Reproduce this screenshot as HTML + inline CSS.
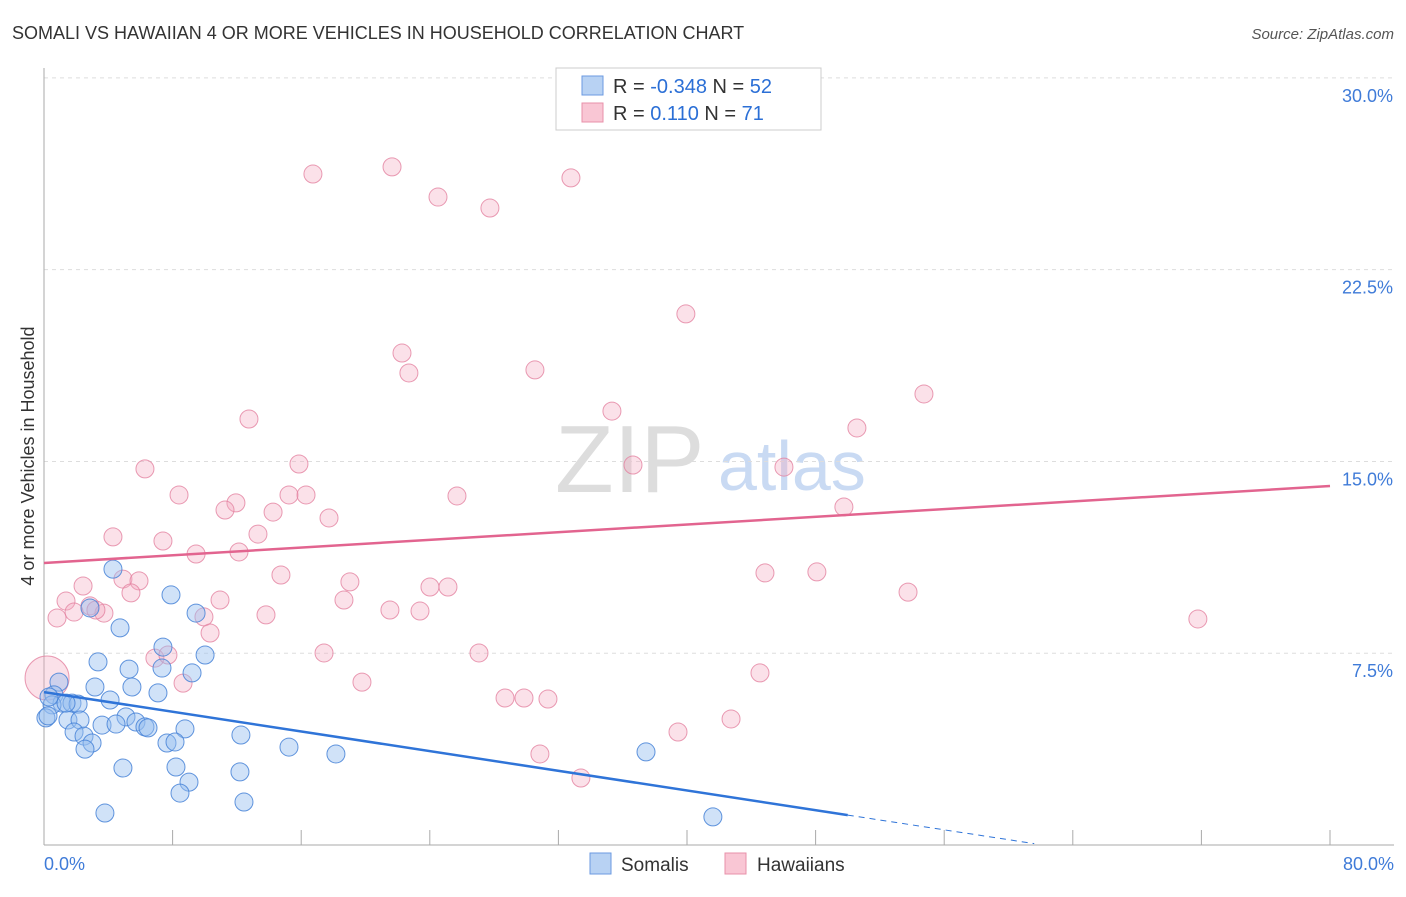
<!DOCTYPE html>
<html><head><meta charset="utf-8"><style>
body{margin:0;background:#fff;font-family:"Liberation Sans",sans-serif;}
svg text{font-family:"Liberation Sans",sans-serif;}
</style></head><body>
<svg id="chart" width="1406" height="892" xmlns="http://www.w3.org/2000/svg">
<text x="12" y="39" font-size="18" fill="#333">SOMALI VS HAWAIIAN 4 OR MORE VEHICLES IN HOUSEHOLD CORRELATION CHART</text>
<text x="1394" y="39" font-size="15" fill="#555" text-anchor="end" font-style="italic">Source: ZipAtlas.com</text>
<text x="555" y="492" font-size="96" fill="#ddd" font-family="Liberation Serif,serif">ZIP</text>
<text x="718" y="490" font-size="70" fill="#c9daf3">atlas</text>
<g id="grid"></g>
<g id="axes"></g>
<g id="points"></g>
<g id="trends"></g>
<text transform="translate(34,456) rotate(-90)" font-size="18" fill="#333" text-anchor="middle">4 or more Vehicles in Household</text>
<g>
<rect x="556" y="68" width="265" height="62" fill="#fff" stroke="#ccc"/>
<rect x="582" y="76" width="21" height="19" fill="#b8d2f3" stroke="#6b9ae0"/>
<rect x="582" y="103" width="21" height="19" fill="#f9c6d4" stroke="#e890aa"/>
<text x="613" y="93" font-size="20" fill="#333">R = <tspan fill="#2b6fd6">-0.348</tspan>   N = <tspan fill="#2b6fd6">52</tspan></text>
<text x="613" y="120" font-size="20" fill="#333">R =   <tspan fill="#2b6fd6">0.110</tspan>   N =  <tspan fill="#2b6fd6">71</tspan></text>
</g>
<g>
<rect x="590" y="853" width="21" height="21" fill="#b8d2f3" stroke="#6b9ae0"/>
<text x="621" y="871" font-size="19" fill="#333">Somalis</text>
<rect x="725" y="853" width="21" height="21" fill="#f9c6d4" stroke="#e890aa"/>
<text x="757" y="871" font-size="19" fill="#333">Hawaiians</text>
</g>
</svg>
<script>
const xTicksPct=[0,80];
const yTicks=[7.5,15,22.5,30];
const yTickLabels=["7.5%","15.0%","22.5%","30.0%"];
const somaliX=[4.29,7.90,2.86,9.46,4.73,7.40,3.36,7.34,10.02,5.29,9.21,0.93,3.17,5.47,7.09,0.62,4.11,1.12,1.74,0.50,2.12,0.12,1.49,2.24,5.10,5.72,3.61,4.48,6.28,6.47,8.77,1.87,2.49,7.65,8.15,2.99,2.55,12.25,15.24,18.16,37.45,4.91,8.21,12.19,9.02,8.46,12.44,3.79,41.61,0.31,1.37,0.25];
const somaliY=[10.79,9.78,9.27,9.07,8.49,7.74,7.16,6.92,7.43,6.88,6.73,6.37,6.18,6.18,5.95,5.87,5.67,5.55,5.55,5.48,5.51,4.97,4.89,4.89,5.01,4.81,4.69,4.73,4.62,4.58,4.54,4.42,4.26,3.99,4.03,3.99,3.75,4.30,3.83,3.56,3.64,3.01,3.05,2.86,2.46,2.03,1.68,1.25,1.10,5.79,5.55,5.05];
const hawaiiX=[0.19,16.73,21.65,24.51,27.74,32.78,39.93,22.27,22.70,30.54,12.75,35.33,54.74,50.57,6.28,15.86,36.64,46.03,8.40,11.94,15.24,16.30,25.69,11.26,14.25,49.76,17.73,4.29,13.31,7.40,12.13,9.46,14.74,4.91,5.91,2.43,19.03,24.01,25.13,44.85,48.08,1.37,5.41,10.95,2.86,18.66,53.75,1.87,3.73,0.81,9.95,13.81,21.52,23.39,71.78,10.33,6.90,7.71,17.42,27.06,8.65,19.78,44.54,28.68,29.86,31.35,42.74,39.44,30.85,33.40,3.23];
const hawaiiY=[6.53,26.24,26.52,25.34,24.91,26.09,20.77,19.24,18.46,18.58,16.66,16.97,17.64,16.31,14.71,14.90,14.86,14.78,13.69,13.38,13.69,13.69,13.65,13.10,13.02,13.22,12.79,12.05,12.16,11.89,11.46,11.38,10.56,10.40,10.33,10.13,10.29,10.09,10.09,10.64,10.68,9.54,9.86,9.58,9.35,9.58,9.89,9.11,9.07,8.88,8.92,9.00,9.19,9.15,8.84,8.29,7.31,7.43,7.51,7.51,6.33,6.37,6.73,5.75,5.75,5.71,4.93,4.42,3.56,2.62,9.19];
const somaliTrend=[5.98,-0.0962];
const hawaiiTrend=[11.03,0.0376];
const NS="http://www.w3.org/2000/svg";
const X=v=>44+v*(1286/80);
const Y=v=>845-v*25.57;
function mk(tag,attrs,parent){const e=document.createElementNS(NS,tag);for(const k in attrs)e.setAttribute(k,attrs[k]);document.getElementById(parent).appendChild(e);return e;}
// grid
yTicks.forEach((t,i)=>{
 const l=mk('line',{x1:44,x2:1394,y1:Y(t),y2:Y(t),stroke:'#ddd','stroke-dasharray':'4,4'},'grid');
 
 
 const tx=mk('text',{x:1393,y:Y(t)+24,'font-size':18,fill:'#3f7bd8','text-anchor':'end'},'axes');
 tx.textContent=yTickLabels[i];
 
 
});
const ax=mk('line',{x1:44,x2:44,y1:68,y2:845,stroke:'#aaa'},'axes');


const bx=mk('line',{x1:44,x2:1394,y1:845,y2:845,stroke:'#aaa'},'axes');


for(let i=0;i<=10;i++){
 const t=mk('line',{x1:X(i*8),x2:X(i*8),y1:830,y2:845,stroke:'#aaa'},'axes');
 
 
}
xTicksPct.forEach((v,i)=>{
 const t=mk('text',{x:i?1394:44,y:870,'font-size':18,fill:'#3f7bd8','text-anchor':i?'end':'start'},'axes');
 t.textContent=v.toFixed(1)+'%';
 
 
});
hawaiiX.forEach((v,i)=>{
 const c=mk('circle',{cx:X(v),cy:Y(hawaiiY[i]),r:i===0?22:9,fill:'rgba(244,170,192,0.35)',stroke:'rgba(228,130,160,0.8)','stroke-width':1},'points');
 
 
});
somaliX.forEach((v,i)=>{
 const c=mk('circle',{cx:X(v),cy:Y(somaliY[i]),r:9,fill:'rgba(150,190,240,0.45)',stroke:'rgba(70,130,215,0.85)','stroke-width':1},'points');
 
 
});
const f=(tr,x)=>tr[0]+tr[1]*x;
const l1=mk('line',{x1:X(0),y1:Y(f(somaliTrend,0)),x2:X(50),y2:Y(f(somaliTrend,50)),stroke:'#2f74d8','stroke-width':2.5},'trends');


const l2=mk('line',{x1:X(50),y1:Y(f(somaliTrend,50)),x2:X(61.6),y2:Y(f(somaliTrend,61.6)),stroke:'#2f74d8','stroke-width':1,'stroke-dasharray':'6,5'},'trends');


const l3=mk('line',{x1:X(0),y1:Y(f(hawaiiTrend,0)),x2:X(80),y2:Y(f(hawaiiTrend,80)),stroke:'#e2648f','stroke-width':2.5},'trends');


</script>
</body></html>
